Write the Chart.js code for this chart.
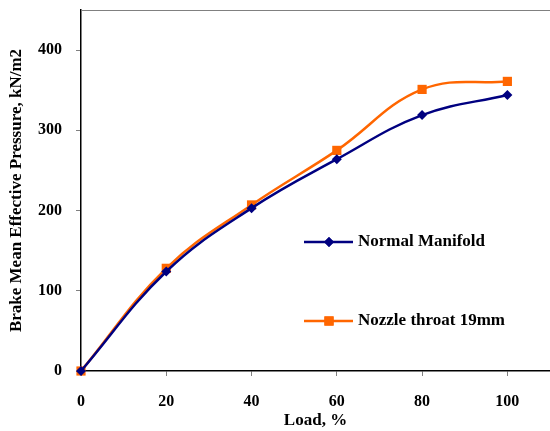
<!DOCTYPE html>
<html>
<head>
<meta charset="utf-8">
<script src="https://cdn.jsdelivr.net/npm/chart.js@4"></script>
<style>
html,body{margin:0;padding:0;background:#fff;}
#wrap{width:550px;height:431px;position:relative;}
</style>
</head>
<body>
<div id="wrap"><canvas id="c" width="550" height="431"></canvas></div>
<script>
const loads = [0, 20, 40, 60, 80, 100];
const normalManifold = [0, 124, 203, 264, 319, 344];
const nozzleThroat19 = [0, 128, 207, 275, 351, 361];
const xTicks = [0, 20, 40, 60, 80, 100];
const yTicks = [0, 100, 200, 300, 400];
const seriesNames = ['Normal Manifold', 'Nozzle throat 19mm'];

const FONT = 'Liberation Serif, "Times New Roman", serif';
const NAVY = '#000080';
const ORANGE = '#FF6600';

const toXY = (xs, ys) => xs.map((x, i) => ({x: x, y: ys[i]}));

const borderPlugin = {
  id: 'extras',
  afterDraw(chart) {
    const {ctx, chartArea} = chart;
    ctx.save();
    ctx.strokeStyle = '#808080';
    ctx.lineWidth = 1;
    ctx.beginPath();
    ctx.moveTo(chartArea.left, chartArea.top + 0.5);
    ctx.lineTo(chartArea.right, chartArea.top + 0.5);
    ctx.stroke();
    const items = [
      {name: seriesNames[0], color: NAVY, style: 'rectRot', r: 5, y: 242},
      {name: seriesNames[1], color: ORANGE, style: 'rect', r: 6.5, y: 321}
    ];
    items.forEach(it => {
      ctx.strokeStyle = it.color;
      ctx.lineWidth = 2.5;
      ctx.beginPath();
      ctx.moveTo(304, it.y);
      ctx.lineTo(353, it.y);
      ctx.stroke();
      ctx.fillStyle = it.color;
      Chart.helpers.drawPoint(ctx, {pointStyle: it.style, radius: it.r, rotation: 0, borderWidth: 0}, 329, it.y);
      ctx.fill();
      ctx.fillStyle = '#000';
      ctx.font = 'bold 17px ' + FONT;
      ctx.textAlign = 'left';
      ctx.textBaseline = 'middle';
      ctx.fillText(it.name, 358, it.y);
    });
    ctx.restore();
  }
};

new Chart(document.getElementById('c'), {
  type: 'line',
  data: {
    datasets: [
      {
        label: seriesNames[0],
        data: toXY(loads, normalManifold),
        borderColor: NAVY,
        backgroundColor: NAVY,
        borderWidth: 2.5,
        pointStyle: 'rectRot',
        pointRadius: 5,
        pointBorderWidth: 0,
        tension: 0.4,
        fill: false,
        clip: false
      },
      {
        label: seriesNames[1],
        data: toXY(loads, nozzleThroat19),
        borderColor: ORANGE,
        backgroundColor: ORANGE,
        borderWidth: 2.5,
        pointStyle: 'rect',
        pointRadius: 6.5,
        pointBorderWidth: 0,
        tension: 0.4,
        fill: false,
        clip: false
      }
    ]
  },
  options: {
    responsive: false,
    animation: false,
    devicePixelRatio: 1,
    layout: {autoPadding: false, padding: {top: 10, right: 0, left: 0, bottom: 0}},
    plugins: {legend: {display: false}, tooltip: {enabled: false}},
    scales: {
      x: {
        type: 'linear',
        min: 0,
        max: 110,
        afterBuildTicks(scale) { scale.ticks = xTicks.map(v => ({value: v})); },
        afterFit(scale) { scale.height = 60; scale.paddingLeft = 0; scale.paddingRight = 0; },
        grid: {drawOnChartArea: false, drawTicks: true, tickLength: 5, tickColor: '#808080'},
        border: {color: '#000', width: 1.5},
        ticks: {color: '#000', font: {family: FONT, size: 16, weight: 'bold'}, padding: 16, maxRotation: 0},
        title: {display: true, text: 'Load, %', color: '#000', font: {family: FONT, size: 17, weight: 'bold'}, padding: {top: 0, bottom: 0}}
      },
      y: {
        type: 'linear',
        min: 0,
        max: 450,
        afterBuildTicks(scale) { scale.ticks = yTicks.map(v => ({value: v})); },
        afterFit(scale) { scale.width = 81; scale.paddingTop = 0; scale.paddingBottom = 0; },
        grid: {drawOnChartArea: false, drawTicks: true, tickLength: 5, tickColor: '#808080'},
        border: {color: '#000', width: 1.5},
        ticks: {color: '#000', font: {family: FONT, size: 16, weight: 'bold'}, padding: 14},
        title: {display: true, text: 'Brake Mean Effective Pressure, kN/m2', color: '#000', font: {family: FONT, size: 17, weight: 'bold'}, padding: {top: 6, bottom: 0}}
      }
    }
  },
  plugins: [borderPlugin]
});
</script>
</body>
</html>
